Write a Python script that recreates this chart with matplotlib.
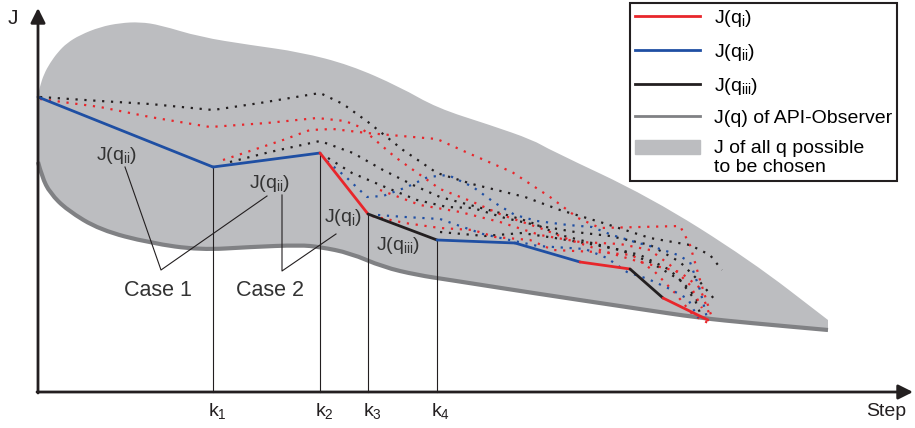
import matplotlib.pyplot as plt
import matplotlib.patches as mpatches
from matplotlib.path import Path
from matplotlib.lines import Line2D
from matplotlib.legend_handler import HandlerPatch

plt.rcParams['font.family'] = ['Liberation Sans', 'DejaVu Sans']
plt.rcParams['mathtext.fontset'] = 'custom'
plt.rcParams['mathtext.rm'] = 'Liberation Sans'
plt.rcParams['mathtext.it'] = 'Liberation Sans'

RED = '#e8262b'
BLUE = '#1f4fa3'
BLACK = '#231f20'
GREY_FILL = '#bcbdc0'
GREY_LINE = '#808184'

# schematic units: step to the right, J downwards (picture scale)
# upper border of the region of all possible J
region_top_x = [38, 40, 44, 50, 58, 67, 80, 100, 120, 140, 160, 200, 250, 300, 350, 400, 437, 490, 533, 550, 650, 750, 828]
region_top_y = [95, 86, 74, 63, 52, 43, 35, 27, 23, 22, 25, 37, 45, 52, 65, 87, 108, 125, 140, 150, 197, 260, 320]
# lower border = J(q) of API-Observer
observer_x = [38, 42, 50, 67, 100, 150, 200, 250, 300, 320, 350, 383, 417, 450, 533, 633, 700, 750, 828]
observer_y = [162, 177, 193, 210, 230, 243, 250, 247, 245, 247, 253, 267, 275, 280, 293, 308, 318, 323, 330]

# chosen path and which q was taken on each segment
path_x = [38, 213, 320, 368, 437, 515, 580, 630, 663, 708]
path_y = [97, 167, 153, 214, 240, 243, 262, 269, 298, 320]
path_q = ['ii', 'ii', 'i', 'iii', 'ii', 'ii', 'i', 'iii', 'i']

k_steps = [213, 320, 368, 437]
k_labels = ['1', '2', '3', '4']

# predicted J of the other q (dotted)
red_dotted = [
    [(40, 99), (100, 107), (150, 117), (210, 127), (267, 123), (317, 118), (345, 121), (360, 127), (395, 157),
     (440, 189), (473, 202), (502, 215), (540, 228), (570, 240), (600, 250), (640, 262), (680, 272), (700, 288), (710, 316)],
    [(223, 160), (253, 150), (283, 140), (310, 130), (333, 129), (367, 133), (413, 137), (437, 139), (468, 153),
     (512, 172), (550, 197), (578, 218), (600, 228), (680, 226), (690, 245), (700, 280), (712, 318)],
    [(372, 216), (405, 223), (440, 228), (473, 230), (495, 237), (530, 240), (553, 250), (597, 252), (632, 255),
     (655, 272), (675, 293), (693, 315), (708, 323)],
    [(380, 190), (420, 205), (460, 212), (500, 222), (540, 235), (580, 242), (620, 244), (650, 250), (670, 265),
     (690, 285), (702, 308)],
]
blue_dotted = [
    [(327, 161), (347, 178), (367, 197), (383, 196), (407, 187), (428, 177), (448, 175), (473, 187), (495, 203),
     (515, 215), (537, 221), (568, 225), (592, 227), (612, 235), (635, 242), (657, 248), (678, 255), (690, 262),
     (700, 290), (707, 318)],
    [(378, 215), (405, 217), (440, 219), (460, 226), (483, 234), (505, 239), (538, 246), (585, 249), (607, 258),
     (627, 272), (648, 279), (670, 289), (688, 299), (698, 318)],
]
black_dotted = [
    [(40, 97), (100, 101), (150, 104), (213, 110), (260, 103), (320, 93), (343, 104), (368, 122), (403, 150),
     (437, 173), (472, 184), (525, 197), (560, 210), (600, 222), (650, 238), (690, 245), (710, 255), (722, 270)],
    [(230, 162), (270, 152), (320, 141), (353, 153), (383, 170), (413, 185), (440, 197), (470, 205), (500, 213),
     (530, 222), (560, 235), (600, 245), (640, 255), (670, 270), (690, 290), (700, 305)],
    [(328, 158), (352, 173), (385, 187), (417, 200), (447, 207), (473, 208), (505, 218), (540, 226), (575, 232),
     (610, 236), (650, 245), (680, 262), (700, 282), (715, 300)],
    [(440, 232), (485, 236), (522, 233), (555, 238), (590, 244), (620, 250), (650, 262), (680, 280), (695, 300), (702, 318)],
]

q_colors = {'i': RED, 'ii': BLUE, 'iii': BLACK}


def smooth_segments(xs, ys):
    # quadratic bezier through midpoints, the read points act as control points
    verts = []
    codes = []
    for i in range(1, len(xs) - 1):
        verts += [(xs[i], ys[i]), ((xs[i] + xs[i + 1]) / 2, (ys[i] + ys[i + 1]) / 2)]
        codes += [Path.CURVE3, Path.CURVE3]
    verts.append((xs[-1], ys[-1]))
    codes.append(Path.LINETO)
    return verts, codes


fig = plt.figure(figsize=(9.15, 4.28), dpi=100)
ax = fig.add_axes([0, 0, 1, 1])
ax.set_xlim(0, 915)
ax.set_ylim(428, 0)
ax.axis('off')

# region of all possible q
tv, tc = smooth_segments(region_top_x, region_top_y)
bv, bc = smooth_segments(observer_x[::-1], observer_y[::-1])
verts = [(region_top_x[0], region_top_y[0])] + tv + [(observer_x[-1], observer_y[-1])] + bv + [(0, 0)]
codes = [Path.MOVETO] + tc + [Path.LINETO] + bc + [Path.CLOSEPOLY]
ax.add_patch(mpatches.PathPatch(Path(verts, codes), facecolor=GREY_FILL, lw=0, zorder=1))

ov, oc = smooth_segments(observer_x, observer_y)
obs_path = Path([(observer_x[0], observer_y[0])] + ov, [Path.MOVETO] + oc)
ax.add_patch(mpatches.PathPatch(obs_path, facecolor='none', edgecolor=GREY_LINE, lw=3, capstyle='butt', zorder=2))

# dotted predictions
for paths, col in [(black_dotted, BLACK), (red_dotted, RED), (blue_dotted, BLUE)]:
    for p in paths:
        xs = [v[0] for v in p]
        ys = [v[1] for v in p]
        ax.plot(xs, ys, color=col, lw=1.6, linestyle=(0, (1, 3)), dash_capstyle='butt', zorder=3)

# vertical step markers
for i, k in enumerate(k_steps):
    j = path_x.index(k)
    ax.plot([k, k], [path_y[j], 392], color=BLACK, lw=0.8, zorder=4)
    ax.text(k + 4, 411, r'k$_{%s}$' % k_labels[i], fontsize=14, ha='center', va='center', color=BLACK)

# chosen path
for i, q in enumerate(path_q):
    ax.plot(path_x[i:i + 2], path_y[i:i + 2], color=q_colors[q], lw=2.0, solid_capstyle='round', zorder=5)

# axes arrows
ax.annotate('', xy=(913, 392), xytext=(37, 392),
            arrowprops=dict(arrowstyle='-|>', lw=2, color=BLACK, mutation_scale=22, shrinkA=0, shrinkB=0), zorder=6)
ax.annotate('', xy=(38, 8), xytext=(38, 393),
            arrowprops=dict(arrowstyle='-|>', lw=2, color=BLACK, mutation_scale=22, shrinkA=0, shrinkB=0), zorder=6)
ax.text(13, 18, 'J', fontsize=15, ha='center', va='center', color=BLACK)
ax.text(886, 411, 'Step', fontsize=14, ha='center', va='center', color=BLACK)

# annotations
ax.text(117, 156, r'J(q$_{\mathrm{ii}}$)', fontsize=14, ha='center', va='center', color='#333333', zorder=7)
ax.text(270, 183, r'J(q$_{\mathrm{ii}}$)', fontsize=14, ha='center', va='center', color='#333333', zorder=7)
ax.text(343, 217, r'J(q$_{\mathrm{i}}$)', fontsize=14, ha='center', va='center', color='#333333', zorder=7)
ax.text(398, 245, r'J(q$_{\mathrm{iii}}$)', fontsize=14, ha='center', va='center', color='#333333', zorder=7)
ax.text(158, 291, 'Case 1', fontsize=15.5, ha='center', va='center', color='#333333', zorder=7)
ax.text(270, 291, 'Case 2', fontsize=15.5, ha='center', va='center', color='#333333', zorder=7)
ax.plot([125, 161, 267], [167, 270, 196], color=BLACK, lw=0.8, zorder=7)
ax.plot([282, 282, 336], [195, 271, 234], color=BLACK, lw=0.8, zorder=7)


def top_patch(legend, orig_handle, xdescent, ydescent, width, height, fontsize):
    return mpatches.Rectangle((-xdescent, -ydescent + 0.55 * fontsize), width, height)


handles = [
    Line2D([], [], color=RED, lw=2),
    Line2D([], [], color=BLUE, lw=2),
    Line2D([], [], color=BLACK, lw=2),
    Line2D([], [], color=GREY_LINE, lw=2),
    mpatches.Patch(color=GREY_FILL),
]
labels = [r'J(q$_{\mathrm{i}}$)', r'J(q$_{\mathrm{ii}}$)', r'J(q$_{\mathrm{iii}}$)',
          'J(q) of API-Observer', 'J of all q possible\nto be chosen']
leg = ax.legend(handles, labels, loc='upper right', bbox_to_anchor=(897 / 915, 1 - 3 / 428),
                fontsize=14, frameon=True, fancybox=False, edgecolor=BLACK, framealpha=1,
                handlelength=3.35, handletextpad=0.7, labelspacing=0.66, borderpad=0.25,
                borderaxespad=0, handler_map={mpatches.Patch: HandlerPatch(patch_func=top_patch)})
leg.get_frame().set_linewidth(1.5)
leg.set_zorder(10)

fig.savefig('out.png', dpi=100)
